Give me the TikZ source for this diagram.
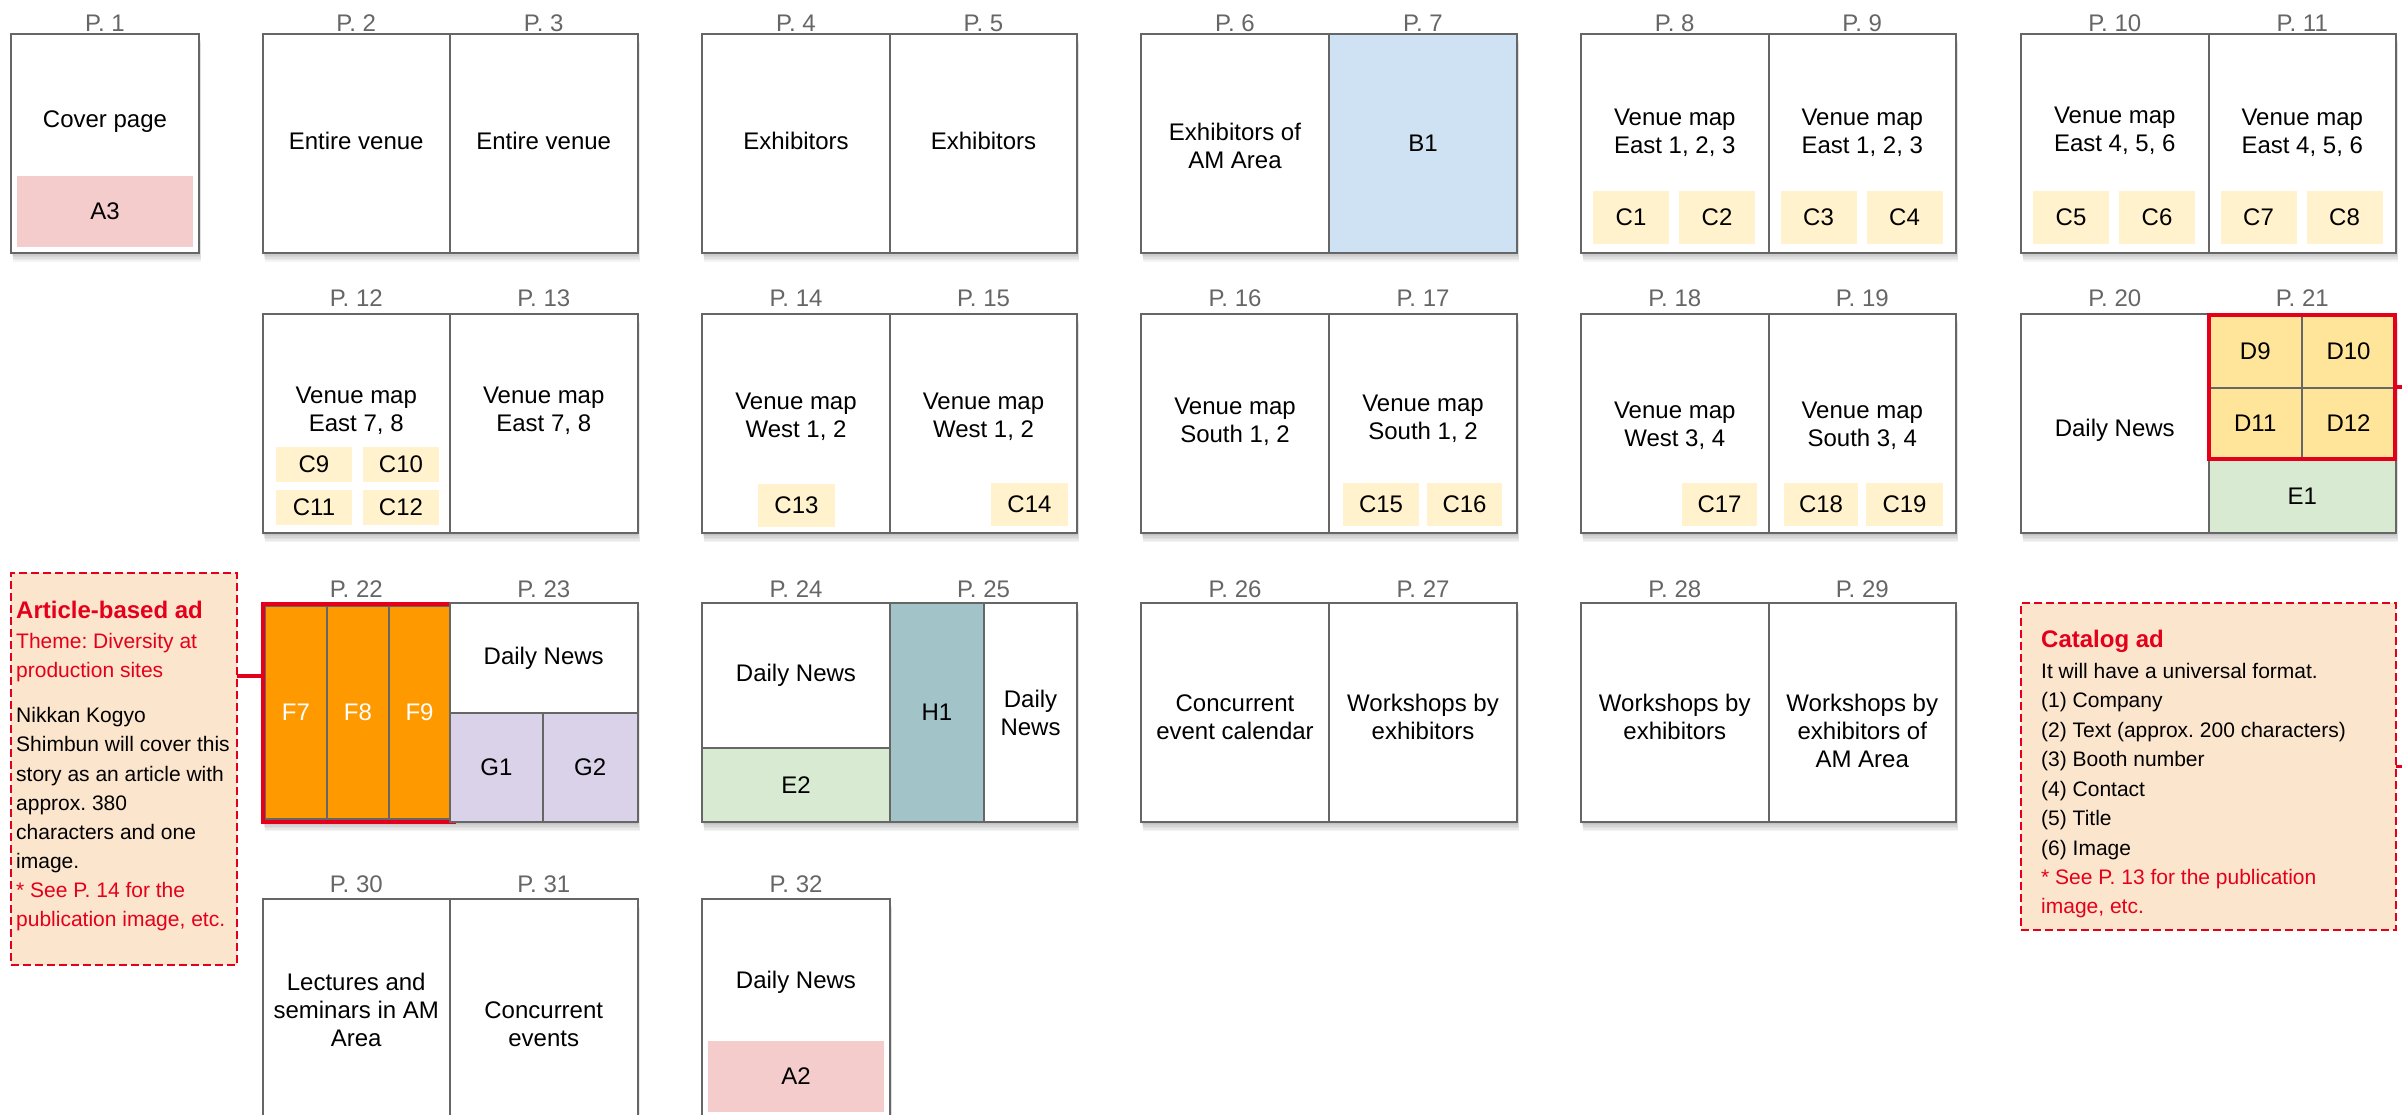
\documentclass[tikz,border=0pt]{standalone}
\usepackage{fontspec}
\setmainfont{Liberation Sans}
\frenchspacing
\usetikzlibrary{fit}
\definecolor{edge}{HTML}{666666}
\definecolor{numgray}{HTML}{666666}
\definecolor{adred}{RGB}{228,0,27}
\definecolor{pinkA}{HTML}{F4CCCC}
\definecolor{blueB}{HTML}{CFE2F3}
\definecolor{yelC}{HTML}{FFF2CC}
\definecolor{goldD}{HTML}{FFE599}
\definecolor{greenE}{HTML}{D9EAD3}
\definecolor{orangeF}{HTML}{FF9900}
\definecolor{lilacG}{HTML}{D9D2E9}
\definecolor{tealH}{HTML}{A2C4C9}
\definecolor{peach}{HTML}{FCE5CD}
\tikzset{
  cellst/.style={draw=edge, line width=2pt, inner sep=0pt, outer sep=0pt},
  padst/.style={draw=none, inner sep=0pt, outer sep=0pt},
  txt/.style={font=\fontsize{24}{28}\selectfont, align=center, inner sep=0pt, text=black},
  num/.style={font=\fontsize{24}{28}\selectfont, anchor=base, inner sep=0pt, text=numgray},
  adbox/.style={draw=adred, line width=2pt, dash pattern=on 8pt off 4pt, fill=peach, inner sep=0pt, outer sep=0pt},
  adline/.style={font=\fontsize{21}{29}\selectfont, anchor=base west, inner sep=0pt, text=black},
  adredline/.style={adline, text=adred},
  adhead/.style={anchor=base west, inner sep=0pt, text=adred, font={\fontsize{24}{29}\selectfont\bfseries}},
  redframe/.style={draw=adred, line width=4pt, inner sep=0pt, outer sep=0pt},
  link/.style={draw=adred, line width=3.5pt},
}
\newcommand\dropsh[4]{\foreach \k in {1,...,6}{\fill[black,opacity=0.045] (#1+0.4*\k,#2+1.5*\k) rectangle (#3+0.4*\k,#4+1.5*\k);}}
\newcommand\pg[6]{\node[cellst, fill=#6, fit={(#2,#3) (#4,#5)}] (#1) {};}
\newcommand\pgt[7]{\node[cellst, fill=#6, fit={(#2,#3) (#4,#5)}] (#1) {};
  \node[txt] (#1t) at (#1.center) {#7};}
\newcommand\pad[7]{\node[padst, fill=#6, fit={(#2,#3) (#4,#5)}] (#1) {};
  \node[txt] (#1t) at (#1.center) {#7};}
\begin{document}
\begin{tikzpicture}[x=1pt,y=-1pt]
\useasboundingbox (0,0) rectangle (2402,1115);
% ---------- shadows
\dropsh{11}{34}{199}{253}
\foreach \a/\b in {262.5/637.5,702/1077,1141/1517,1581/1956,2021/2396}{\dropsh{\a}{34}{\b}{253}}
\foreach \a/\b in {262.5/637.5,702/1077,1141/1517,1581/1956,2021/2396}{\dropsh{\a}{314}{\b}{533}}
\foreach \a/\b in {262.5/637.5,702/1077,1141/1517,1581/1956}{\dropsh{\a}{603}{\b}{822}}
\dropsh{262.5}{899}{637.5}{1118}
\dropsh{702}{899}{890}{1118}
% ---------- row 1
\pg{p1}{11}{34}{199}{253}{white}
\pad{a3}{17}{176}{193}{247}{pinkA}{A3}
\node[txt] (t1) at (105,122) {Cover page};
\pg{p2}{262.5}{34}{450}{253}{white}
\pg{p3}{450}{34}{637.5}{253}{white}
\node[txt] (t2) at (356.25,141) {Entire venue};
\node[txt] (t3) at (543.75,141) {Entire venue};
\pg{p4}{702}{34}{890}{253}{white}
\pg{p5}{890}{34}{1077}{253}{white}
\node[txt] (t4) at (796,141) {Exhibitors};
\node[txt] (t5) at (983.5,141) {Exhibitors};
\pg{p6}{1141}{34}{1329}{253}{white}
\pgt{p7}{1329}{34}{1517}{253}{blueB}{B1}
\node[txt] (t6) at (1235,146) {Exhibitors of\\AM Area};
\pg{p8}{1581}{34}{1768.5}{253}{white}
\pg{p9}{1768.5}{34}{1956}{253}{white}
\node[txt] (t8) at (1674.75,133) {Venue map\\East 1, 2, 3};
\node[txt] (t9) at (1862.25,133) {Venue map\\East 1, 2, 3};
\pad{c1}{1593}{191}{1669}{244}{yelC}{C1}
\pad{c2}{1679}{191}{1755}{244}{yelC}{C2}
\pad{c3}{1780.5}{191}{1856.5}{244}{yelC}{C3}
\pad{c4}{1866.5}{191}{1942.5}{244}{yelC}{C4}
\pg{p10}{2021}{34}{2208.5}{253}{white}
\pg{p11}{2208.5}{34}{2396}{253}{white}
\node[txt] (t10) at (2114.75,131) {Venue map\\East 4, 5, 6};
\node[txt] (t11) at (2302.25,133) {Venue map\\East 4, 5, 6};
\pad{c5}{2033}{191}{2109}{244}{yelC}{C5}
\pad{c6}{2119}{191}{2195}{244}{yelC}{C6}
\pad{c7}{2220.5}{191}{2296.5}{244}{yelC}{C7}
\pad{c8}{2306.5}{191}{2382.5}{244}{yelC}{C8}
% ---------- row 2
\pg{p12}{262.5}{314}{450}{533}{white}
\pg{p13}{450}{314}{637.5}{533}{white}
\node[txt] (t12) at (356.25,411) {Venue map\\East 7, 8};
\node[txt] (t13) at (543.75,411) {Venue map\\East 7, 8};
\pad{c9}{276}{447}{352}{482}{yelC}{C9}
\pad{c10}{363}{447}{439}{482}{yelC}{C10}
\pad{c11}{276}{490}{352}{525}{yelC}{C11}
\pad{c12}{363}{490}{439}{525}{yelC}{C12}
\pg{p14}{702}{314}{890}{533}{white}
\pg{p15}{890}{314}{1077}{533}{white}
\node[txt] (t14) at (796,417) {Venue map\\West 1, 2};
\node[txt] (t15) at (983.5,417) {Venue map\\West 1, 2};
\pad{c13}{758}{484}{835}{527}{yelC}{C13}
\pad{c14}{991}{483}{1068}{526}{yelC}{C14}
\pg{p16}{1141}{314}{1329}{533}{white}
\pg{p17}{1329}{314}{1517}{533}{white}
\node[txt] (t16) at (1235,422) {Venue map\\South 1, 2};
\node[txt] (t17) at (1423,419) {Venue map\\South 1, 2};
\pad{c15}{1343}{483}{1419}{526}{yelC}{C15}
\pad{c16}{1427}{483}{1502}{526}{yelC}{C16}
\pg{p18}{1581}{314}{1768.5}{533}{white}
\pg{p19}{1768.5}{314}{1956}{533}{white}
\node[txt] (t18) at (1674.75,426) {Venue map\\West 3, 4};
\node[txt] (t19) at (1862.25,426) {Venue map\\South 3, 4};
\pad{c17}{1682}{483}{1757}{526}{yelC}{C17}
\pad{c18}{1784}{483}{1858}{526}{yelC}{C18}
\pad{c19}{1866}{483}{1943}{526}{yelC}{C19}
\pg{p20}{2021}{314}{2208.5}{533}{white}
\pg{p21}{2208.5}{314}{2396}{533}{white}
\node[txt] (t20) at (2114.75,430) {Daily News};
\pgt{d9}{2208.5}{315}{2302}{388}{goldD}{D9}
\pgt{d10}{2302}{315}{2395}{388}{goldD}{D10}
\pgt{d11}{2208.5}{388}{2302}{459}{goldD}{D11}
\pgt{d12}{2302}{388}{2395}{459}{goldD}{D12}
\pgt{e1}{2208.5}{459}{2396}{533}{greenE}{E1}
\node[redframe, fit={(2208.5,315) (2395,459)}] (dred) {};
% ---------- row 3
\pg{p22}{262.5}{603}{450}{822}{white}
\pgt{f7}{265}{605.5}{327}{819}{orangeF}{\textcolor{white}{F7}}
\pgt{f8}{327}{605.5}{389}{819}{orangeF}{\textcolor{white}{F8}}
\pgt{f9}{389}{605.5}{450}{819}{orangeF}{\textcolor{white}{F9}}
\node[redframe, fit={(263,604) (453.5,821.5)}] (fred) {};
\pgt{dn23}{450}{603}{637.5}{713}{white}{Daily News}
\pgt{g1}{450}{713}{543}{822}{lilacG}{G1}
\pgt{g2}{543}{713}{637.5}{822}{lilacG}{G2}
\pgt{dn24}{702}{603}{890}{748}{white}{Daily News}
\pgt{e2}{702}{748}{890}{822}{greenE}{E2}
\pgt{h1}{890}{603}{984}{822}{tealH}{H1}
\pgt{dn25}{984}{603}{1077}{822}{white}{Daily\\News}
\pg{p26}{1141}{603}{1329}{822}{white}
\pg{p27}{1329}{603}{1517}{822}{white}
\node[txt] (t26) at (1235,717) {Concurrent\\event calendar};
\node[txt] (t27) at (1423,717) {Workshops by\\exhibitors};
\pg{p28}{1581}{603}{1768.5}{822}{white}
\pg{p29}{1768.5}{603}{1956}{822}{white}
\node[txt] (t28) at (1674.75,717) {Workshops by\\exhibitors};
\node[txt] (t29) at (1862.25,731) {Workshops by\\exhibitors of\\AM Area};
% ---------- row 4
\pg{p30}{262.5}{899}{450}{1118}{white}
\pg{p31}{450}{899}{637.5}{1118}{white}
\node[txt] (t30) at (356.25,1010) {Lectures and\\seminars in AM\\Area};
\node[txt] (t31) at (543.75,1024) {Concurrent\\events};
\pg{p32}{702}{899}{890}{1118}{white}
\node[txt] (t32) at (796,982) {Daily News};
\pad{a2}{708}{1041}{884}{1112}{pinkA}{A2}
% ---------- page numbers
\node[num] (n1) at (105,32) {P. 1};
\node[num] (n2) at (356.25,32) {P. 2};
\node[num] (n3) at (543.75,32) {P. 3};
\node[num] (n4) at (796,32) {P. 4};
\node[num] (n5) at (983.5,32) {P. 5};
\node[num] (n6) at (1235,32) {P. 6};
\node[num] (n7) at (1423,32) {P. 7};
\node[num] (n8) at (1674.75,32) {P. 8};
\node[num] (n9) at (1862.25,32) {P. 9};
\node[num] (n10) at (2114.75,32) {P. 10};
\node[num] (n11) at (2302.25,32) {P. 11};
\node[num] (n12) at (356.25,307) {P. 12};
\node[num] (n13) at (543.75,307) {P. 13};
\node[num] (n14) at (796,307) {P. 14};
\node[num] (n15) at (983.5,307) {P. 15};
\node[num] (n16) at (1235,307) {P. 16};
\node[num] (n17) at (1423,307) {P. 17};
\node[num] (n18) at (1674.75,307) {P. 18};
\node[num] (n19) at (1862.25,307) {P. 19};
\node[num] (n20) at (2114.75,307) {P. 20};
\node[num] (n21) at (2302.25,307) {P. 21};
\node[num] (n22) at (356.25,597) {P. 22};
\node[num] (n23) at (543.75,597) {P. 23};
\node[num] (n24) at (796,597) {P. 24};
\node[num] (n25) at (983.5,597) {P. 25};
\node[num] (n26) at (1235,597) {P. 26};
\node[num] (n27) at (1423,597) {P. 27};
\node[num] (n28) at (1674.75,597) {P. 28};
\node[num] (n29) at (1862.25,597) {P. 29};
\node[num] (n30) at (356.25,892) {P. 30};
\node[num] (n31) at (543.75,892) {P. 31};
\node[num] (n32) at (796,892) {P. 32};
% ---------- article-based ad box
\node[adbox, fit={(11,573) (237,965)}] (art) {};
\node[adhead] (art1) at (16,618) {Article-based ad};
\node[adredline] (art2) at (16,648) {Theme: Diversity at};
\node[adredline] (art3) at (16,677) {production sites};
\node[adline] (art4) at (16,722) {Nikkan Kogyo};
\node[adline] (art5) at (16,751) {Shimbun will cover this};
\node[adline] (art6) at (16,781) {story as an article with};
\node[adline] (art7) at (16,810) {approx. 380};
\node[adline] (art8) at (16,839) {characters and one};
\node[adline] (art9) at (16,868) {image.};
\node[adredline] (art10) at (16,897) {* See P. 14 for the};
\node[adredline] (art11) at (16,926) {publication image, etc.};
\coordinate (artc) at (237,676);
\draw[link] (artc) -- (artc -| fred.west);
% ---------- catalog ad box
\node[adbox, fit={(2021,603) (2396,930)}] (cat) {};
\node[adhead] (cat1) at (2041,647) {Catalog ad};
\node[adline] (cat2) at (2041,678) {It will have a universal format.};
\node[adline] (cat3) at (2041,707) {(1) Company};
\node[adline] (cat4) at (2041,737) {(2) Text (approx. 200 characters)};
\node[adline] (cat5) at (2041,766) {(3) Booth number};
\node[adline] (cat6) at (2041,796) {(4) Contact};
\node[adline] (cat7) at (2041,825) {(5) Title};
\node[adline] (cat8) at (2041,855) {(6) Image};
\node[adredline] (cat9) at (2041,884) {* See P. 13 for the publication};
\node[adredline] (cat10) at (2041,913) {image, etc.};
\draw[link] (dred.east) -- ++(30,0) |- (cat.east);
\end{tikzpicture}
\end{document}
